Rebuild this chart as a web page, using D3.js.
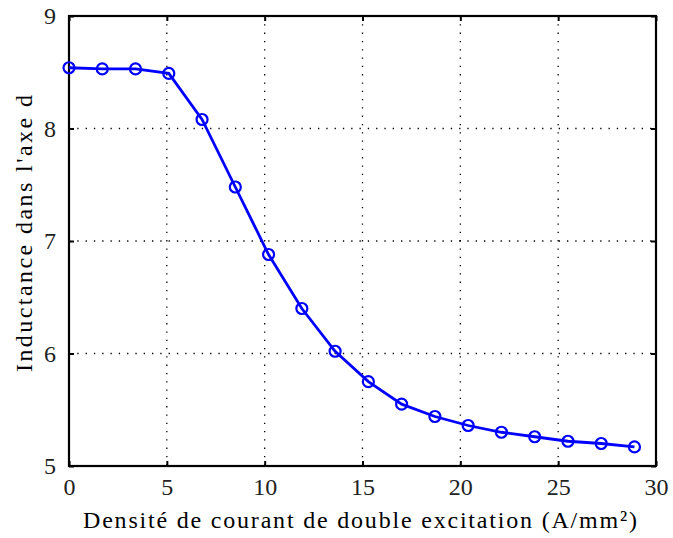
<!DOCTYPE html>
<html><head><meta charset="utf-8">
<script src="https://cdn.jsdelivr.net/npm/d3@7"></script>
<style>body{margin:0;background:#fff}svg{display:block}
svg text{font-family:"Liberation Serif","Times New Roman",Times,serif !important}</style>
</head><body>
<script>
const xValues = [0, 1.7, 3.4, 5.1, 6.8, 8.5, 10.2, 11.9, 13.6, 15.3, 17, 18.7, 20.4, 22.1, 23.8, 25.5, 27.2, 28.9];
const yValues = [8.54, 8.53, 8.53, 8.49, 8.08, 7.48, 6.88, 6.40, 6.02, 5.75, 5.55, 5.44, 5.36, 5.30, 5.26, 5.22, 5.20, 5.17];
const xTicks = [0, 5, 10, 15, 20, 25, 30];
const yTicks = [5, 6, 7, 8, 9];
const xLabel = "Densité de courant de double excitation (A/mm²)";
const yLabel = "Inductance dans l'axe d";

const W = 673, H = 538;
const m = {left: 69, right: 656, top: 16, bottom: 466};
const svg = d3.select("body").append("svg").attr("width", W).attr("height", H);
const x = d3.scaleLinear().domain([0, 30]).range([m.left, m.right]);
const y = d3.scaleLinear().domain([5, 9]).range([m.bottom, m.top]);

// grid
const g = svg.append("g");
g.selectAll("line.gx").data(xTicks.slice(1, -1)).enter().append("line")
  .attr("x1", d => x(d)).attr("x2", d => x(d)).attr("y1", m.top).attr("y2", m.bottom)
  .attr("stroke", "#000").attr("stroke-width", 1.3).attr("stroke-dasharray", "1.3,7");
g.selectAll("line.gy").data(yTicks.slice(1, -1)).enter().append("line")
  .attr("y1", d => y(d)).attr("y2", d => y(d)).attr("x1", m.left).attr("x2", m.right)
  .attr("stroke", "#000").attr("stroke-width", 1.3).attr("stroke-dasharray", "1.3,7");

// axes via d3
const fmt = d3.format("d");
const xAxisB = svg.append("g").attr("transform", `translate(0,${m.bottom})`)
  .call(d3.axisBottom(x).tickValues(xTicks).tickSize(-5).tickPadding(12).tickFormat(fmt));
const xAxisT = svg.append("g").attr("transform", `translate(0,${m.top})`)
  .call(d3.axisTop(x).tickValues(xTicks).tickSize(-5).tickFormat(""));
const yAxisL = svg.append("g").attr("transform", `translate(${m.left},0)`)
  .call(d3.axisLeft(y).tickValues(yTicks).tickSize(-5).tickPadding(13).tickFormat(fmt));
const yAxisR = svg.append("g").attr("transform", `translate(${m.right},0)`)
  .call(d3.axisRight(y).tickValues(yTicks).tickSize(-5).tickFormat(""));
[xAxisB, xAxisT, yAxisL, yAxisR].forEach(a => {
  a.attr("font-size", 24);
  a.select(".domain").remove();
  a.selectAll(".tick line").attr("stroke", "#000").attr("stroke-width", 2);
  a.selectAll("text").attr("fill", "#222");
});

// frame
svg.append("rect").attr("x", m.left).attr("y", m.top)
  .attr("width", m.right - m.left).attr("height", m.bottom - m.top)
  .attr("fill", "none").attr("stroke", "#000").attr("stroke-width", 2.2);

// data
const data = xValues.map((v, i) => ({x: v, y: yValues[i]}));
svg.append("path").datum(data)
  .attr("d", d3.line().x(d => x(d.x)).y(d => y(d.y)))
  .attr("fill", "none").attr("stroke", "#0000ff").attr("stroke-width", 2.8);
svg.selectAll("circle.pt").data(data).enter().append("circle")
  .attr("cx", d => x(d.x)).attr("cy", d => y(d.y)).attr("r", 5.5)
  .attr("fill", "none").attr("stroke", "#0000ff").attr("stroke-width", 2.2);

// labels
svg.append("text").attr("x", 360).attr("y", 528)
  .attr("text-anchor", "middle").attr("font-size", 24)
  .attr("textLength", 554).attr("lengthAdjust", "spacing").text(xLabel);
svg.append("text").attr("transform", `translate(32,233.5) rotate(-90)`)
  .attr("text-anchor", "middle").attr("font-size", 24)
  .attr("textLength", 277).attr("lengthAdjust", "spacing").text(yLabel);
</script>
</body></html>
